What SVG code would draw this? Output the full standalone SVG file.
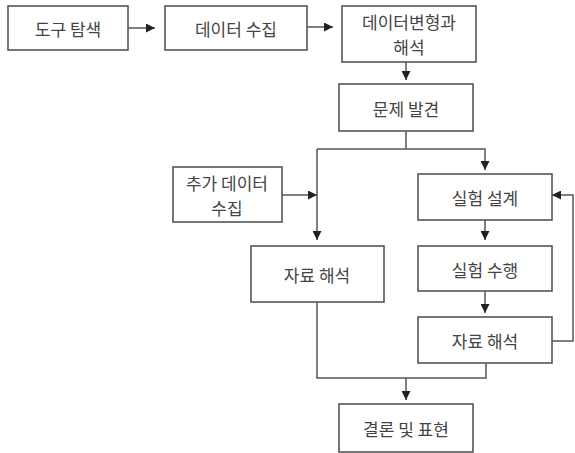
<svg xmlns="http://www.w3.org/2000/svg" width="575" height="453" viewBox="0 0 575 453">
<defs>
<marker id="ah" viewBox="0 0 10 10" refX="10" refY="5" markerWidth="9" markerHeight="9" markerUnits="userSpaceOnUse" orient="auto">
<path d="M0,0 L10,5 L0,10 z" fill="#222"/>
</marker>
<style>
.box{fill:#fff;stroke:#555;stroke-width:1.6}
.t{font-family:"Noto Sans CJK KR","Noto Sans",sans-serif;font-size:17px;fill:#444;text-anchor:middle;dominant-baseline:central}
.c{fill:none;stroke:#555;stroke-width:1.5}
.a{marker-end:url(#ah)}
</style>
</defs>
<rect width="575" height="453" fill="#fff"/>
<g id="connectors">
<path class="c a" d="M128,28 H155"/>
<path class="c a" d="M307,27 H333"/>
<path class="c a" d="M406,62 V80"/>
<path class="c" d="M406,131 V149"/>
<path class="c a" d="M317,149 H485 V170"/>
<path class="c a" d="M317,149 V240"/>
<path class="c a" d="M282,195 H317"/>
<path class="c a" d="M485,220 V240"/>
<path class="c a" d="M485,291 V313"/>
<path class="c a" d="M552,341 H573 V195 H552"/>
<path class="c" d="M317,302 V378 H486 V363"/>
<path class="c a" d="M406,378 V400"/>
</g>
<g id="n1"><rect class="box" x="8" y="6" width="120" height="44"/><text class="t" x="68" y="28">도구 탐색</text></g>
<g id="n2"><rect class="box" x="165" y="6" width="142" height="44"/><text class="t" x="236" y="28">데이터 수집</text></g>
<g id="n3"><rect class="box" x="342" y="6" width="134" height="56"/><text class="t" x="409" y="21.5">데이터변형과</text><text class="t" x="409" y="46.5">해석</text></g>
<g id="n4"><rect class="box" x="339" y="84" width="134" height="47"/><text class="t" x="406" y="108">문제 발견</text></g>
<g id="n5"><rect class="box" x="173" y="167" width="109" height="55"/><text class="t" x="227" y="182">추가 데이터</text><text class="t" x="227" y="207">수집</text></g>
<g id="n6"><rect class="box" x="418" y="174" width="134" height="46"/><text class="t" x="485" y="197">실험 설계</text></g>
<g id="n7"><rect class="box" x="251" y="246" width="133" height="56"/><text class="t" x="317" y="274">자료 해석</text></g>
<g id="n8"><rect class="box" x="418" y="246" width="134" height="45"/><text class="t" x="485" y="269">실험 수행</text></g>
<g id="n9"><rect class="box" x="418" y="317" width="134" height="46"/><text class="t" x="485" y="340">자료 해석</text></g>
<g id="n10"><rect class="box" x="339" y="404" width="134" height="48"/><text class="t" x="406" y="428">결론 및 표현</text></g>
</svg>
